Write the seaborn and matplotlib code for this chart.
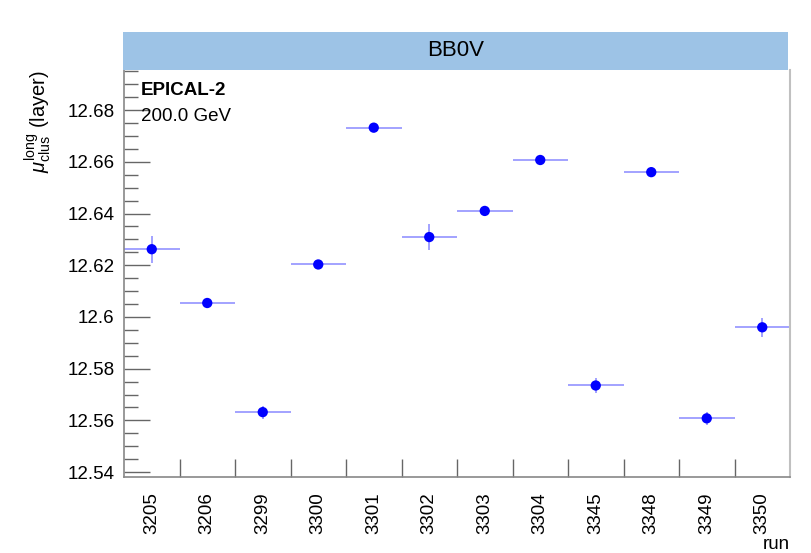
import matplotlib
matplotlib.use("Agg")
import matplotlib.pyplot as plt
import seaborn as sns
import numpy as np
import pandas as pd
from matplotlib.ticker import MultipleLocator, FixedLocator

runs = ["3205", "3206", "3299", "3300", "3301", "3302", "3303", "3304",
        "3345", "3348", "3349", "3350"]
mu_long = [12.6262, 12.6054, 12.5632, 12.6203, 12.6732, 12.6309, 12.6410,
           12.6607, 12.5735, 12.6560, 12.5608, 12.5960]
mu_err = [0.0053, 0.0010, 0.0025, 0.0010, 0.0010, 0.0050, 0.0010, 0.0010,
          0.0030, 0.0010, 0.0025, 0.0036]
title_text = "BB0V"
label_exp = "EPICAL-2"
label_energy = "200.0 GeV"

sns.set_style("white")
plt.rcParams['font.family'] = ['Liberation Sans', 'DejaVu Sans']
plt.rcParams['mathtext.fontset'] = 'custom'
plt.rcParams['mathtext.rm'] = 'Liberation Sans'
plt.rcParams['mathtext.it'] = 'Liberation Sans:italic'
plt.rcParams['text.color'] = 'black'
plt.rcParams['axes.labelcolor'] = 'black'
plt.rcParams['xtick.color'] = 'black'
plt.rcParams['ytick.color'] = 'black'

df = pd.DataFrame({"run": runs, "mu": mu_long, "err": mu_err})
df["pos"] = np.arange(len(runs))

fig = plt.figure(figsize=(8.12, 5.53), dpi=100)
ax = fig.add_axes([124/812, 1-477.3/553, (790-124)/812, (477.3-70)/553])

ax.errorbar(df["pos"], df["mu"], xerr=0.5, yerr=df["err"], fmt="none",
            ecolor=(0.35, 0.35, 1.0), alpha=0.6, elinewidth=1.3, capsize=0, zorder=2)
sns.scatterplot(data=df, x="pos", y="mu", ax=ax, color=(0, 0, 1), s=55,
                edgecolor="none", zorder=3, legend=False)

ax.set_xlim(-0.5, len(runs) - 0.5)
ax.set_ylim(12.538, 12.6955)

ax.xaxis.set_major_locator(FixedLocator(df["pos"].values))
ax.set_xticklabels(runs, rotation=90, fontsize=13.5)
ax.xaxis.set_minor_locator(FixedLocator(np.arange(0.5, len(runs) - 0.5, 1.0)))
ax.tick_params(axis="x", which="major", length=0, pad=11)
ax.tick_params(axis="x", which="minor", direction="in", length=13, width=1, color="#666666")

def yfmt(v, p):
    s = f"{v:.2f}"
    if s.endswith("0"):
        s = s[:-1]
    return s

ax.yaxis.set_major_locator(MultipleLocator(0.02))
ax.yaxis.set_minor_locator(MultipleLocator(0.005))
ax.yaxis.set_major_formatter(matplotlib.ticker.FuncFormatter(yfmt))
ax.tick_params(axis="y", which="major", direction="in", length=19, width=1, color="#666666", labelsize=13.5, pad=7)
ax.tick_params(axis="y", which="minor", direction="in", length=10, width=1, color="#666666")
ax.tick_params(left=True, bottom=True, which="both")

for side in ["left", "bottom"]:
    ax.spines[side].set_color("#888888")
    ax.spines[side].set_linewidth(1.2)
ax.spines["right"].set_color("#c0c0c0")
ax.spines["right"].set_linewidth(1.5)
ax.spines["top"].set_visible(False)

ax.set_xlabel("run", fontsize=13.5, loc="right")
ax.xaxis.set_label_coords(1.0, -0.165)
ax.xaxis.label.set_va("center")
ax.set_ylabel(r"$\mathit{\mu}^{\mathrm{long}}_{\mathrm{clus}}$ (layer)", fontsize=14.5, loc="top")
ax.yaxis.set_label_coords(-0.105, 1.0)

ax.text(0.025, 0.95, label_exp, transform=ax.transAxes, fontsize=13.5,
        fontweight="bold", va="center", ha="left")
ax.text(0.025, 0.886, label_energy, transform=ax.transAxes, fontsize=13.5,
        va="center", ha="left")

tax = fig.add_axes([123/812, 1-70/553, (788-123)/812, (70-32)/553])
tax.set_facecolor("#9dc3e6")
tax.set_xticks([]); tax.set_yticks([])
for s in tax.spines.values():
    s.set_visible(False)
tax.text(0.5, 0.5, title_text, ha="center", va="center", fontsize=16, transform=tax.transAxes)

fig.savefig("out.png", dpi=100)
